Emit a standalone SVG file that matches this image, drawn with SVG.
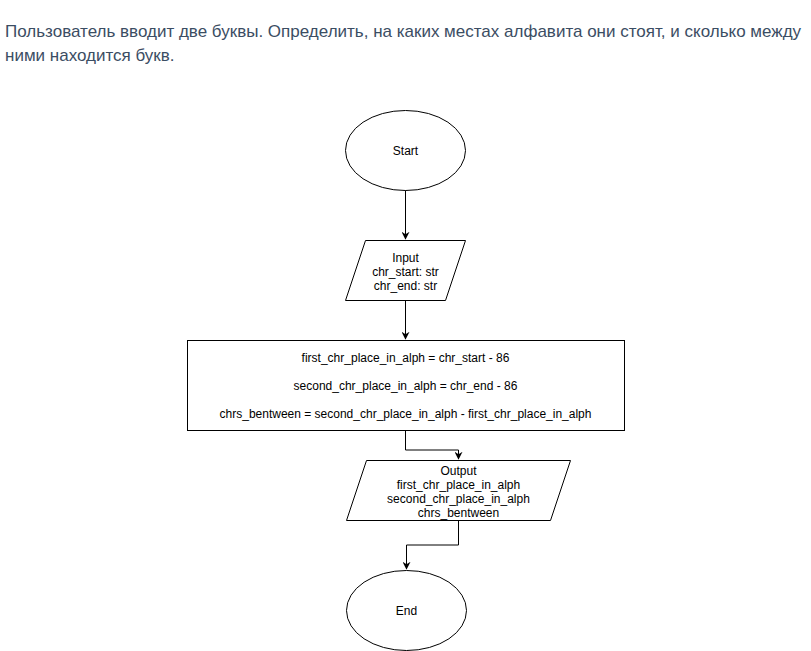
<svg xmlns="http://www.w3.org/2000/svg" width="811" height="651" viewBox="0 0 811 651">
<defs>
<style>
.hdr{font-family:"Liberation Sans",Arial,sans-serif;font-size:17px;fill:#3b4d63}
.shape{fill:#ffffff;stroke:#000000;stroke-width:1}
.t{font-family:"Liberation Sans",Arial,sans-serif;font-size:12px;fill:#000000;text-anchor:middle}
.edge{fill:none;stroke:#000000;stroke-width:1}
</style>
<marker id="arr" viewBox="0 0 10 10" refX="9" refY="5" markerWidth="8" markerHeight="8" markerUnits="userSpaceOnUse" orient="auto">
<path d="M0,0 L10,5 L0,10 L3,5 Z" fill="#000"/>
</marker>
</defs>
<rect width="811" height="651" fill="#ffffff"/>
<text class="hdr" x="5" y="37">Пользователь вводит две буквы. Определить, на каких местах алфавита они стоят, и сколько между</text>
<text class="hdr" x="5" y="61">ними находится букв.</text>

<g id="edges">
<path class="edge" d="M405.5,190 L405.5,239" marker-end="url(#arr)"/>
<path class="edge" d="M405.5,300 L405.5,339" marker-end="url(#arr)"/>
<path class="edge" d="M405.5,430 L405.5,450 L458.5,450 L458.5,459" marker-end="url(#arr)"/>
<path class="edge" d="M458.5,520 L458.5,545 L406.5,545 L406.5,569" marker-end="url(#arr)"/>
</g>

<g id="start">
<ellipse class="shape" cx="405.5" cy="150.5" rx="60" ry="40"/>
<text class="t" x="405.5" y="155">Start</text>
</g>

<g id="input">
<polygon class="shape" points="365.5,240.5 465.5,240.5 445.5,300.5 345.5,300.5"/>
<text class="t" x="405.5" y="262">Input</text>
<text class="t" x="405.5" y="276">chr_start: str</text>
<text class="t" x="405.5" y="290"> chr_end: str</text>
</g>

<g id="process">
<rect class="shape" x="187.5" y="340.5" width="437" height="90"/>
<text class="t" x="405.5" y="362">first_chr_place_in_alph = chr_start - 86</text>
<text class="t" x="405.5" y="390">second_chr_place_in_alph = chr_end - 86</text>
<text class="t" x="405.5" y="418">chrs_bentween = second_chr_place_in_alph - first_chr_place_in_alph</text>
</g>

<g id="output">
<polygon class="shape" points="366.5,460.5 570.5,460.5 550.5,520.5 346.5,520.5"/>
<text class="t" x="458.5" y="475">Output</text>
<text class="t" x="458.5" y="489">first_chr_place_in_alph</text>
<text class="t" x="458.5" y="503">second_chr_place_in_alph</text>
<text class="t" x="458.5" y="517">chrs_bentween</text>
</g>

<g id="end">
<ellipse class="shape" cx="406.5" cy="610.5" rx="60" ry="40"/>
<text class="t" x="406.5" y="615">End</text>
</g>
</svg>
